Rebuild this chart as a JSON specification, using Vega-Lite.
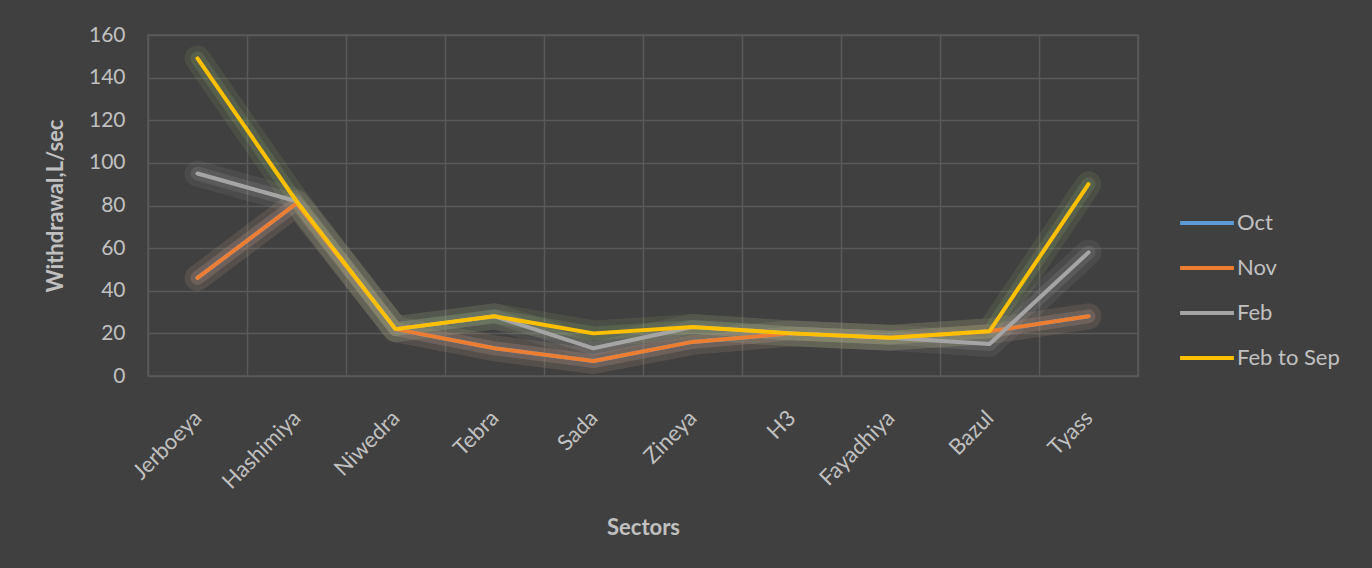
{
  "$schema": "https://vega.github.io/schema/vega-lite/v6.json",
  "width": 990,
  "height": 341,
  "autosize": {"type": "none"},
  "padding": {"left": 148, "top": 35, "right": 234, "bottom": 192},
  "background": "#404040",
  "config": {
    "font": "Lato",
    "view": {"stroke": "#595959", "strokeWidth": 1.5},
    "axis": {"gridColor": "#595959", "gridWidth": 1.5, "domain": false, "ticks": false, "labelColor": "#C0C0C0", "titleColor": "#C0C0C0"}
  },
  "data": {
    "values": [
      {"sector": "Jerboeya", "series": "Oct", "value": 46},
      {"sector": "Hashimiya", "series": "Oct", "value": 81},
      {"sector": "Niwedra", "series": "Oct", "value": 22},
      {"sector": "Tebra", "series": "Oct", "value": 13},
      {"sector": "Sada", "series": "Oct", "value": 7},
      {"sector": "Zineya", "series": "Oct", "value": 16},
      {"sector": "H3", "series": "Oct", "value": 20},
      {"sector": "Fayadhiya", "series": "Oct", "value": 18},
      {"sector": "Bazul", "series": "Oct", "value": 21},
      {"sector": "Tyass", "series": "Oct", "value": 28},
      {"sector": "Jerboeya", "series": "Nov", "value": 46},
      {"sector": "Hashimiya", "series": "Nov", "value": 81},
      {"sector": "Niwedra", "series": "Nov", "value": 22},
      {"sector": "Tebra", "series": "Nov", "value": 13},
      {"sector": "Sada", "series": "Nov", "value": 7},
      {"sector": "Zineya", "series": "Nov", "value": 16},
      {"sector": "H3", "series": "Nov", "value": 20},
      {"sector": "Fayadhiya", "series": "Nov", "value": 18},
      {"sector": "Bazul", "series": "Nov", "value": 21},
      {"sector": "Tyass", "series": "Nov", "value": 28},
      {"sector": "Jerboeya", "series": "Feb", "value": 95},
      {"sector": "Hashimiya", "series": "Feb", "value": 82},
      {"sector": "Niwedra", "series": "Feb", "value": 22},
      {"sector": "Tebra", "series": "Feb", "value": 28},
      {"sector": "Sada", "series": "Feb", "value": 13},
      {"sector": "Zineya", "series": "Feb", "value": 23},
      {"sector": "H3", "series": "Feb", "value": 20},
      {"sector": "Fayadhiya", "series": "Feb", "value": 18},
      {"sector": "Bazul", "series": "Feb", "value": 15},
      {"sector": "Tyass", "series": "Feb", "value": 58},
      {"sector": "Jerboeya", "series": "Feb to Sep", "value": 149},
      {"sector": "Hashimiya", "series": "Feb to Sep", "value": 82},
      {"sector": "Niwedra", "series": "Feb to Sep", "value": 22},
      {"sector": "Tebra", "series": "Feb to Sep", "value": 28},
      {"sector": "Sada", "series": "Feb to Sep", "value": 20},
      {"sector": "Zineya", "series": "Feb to Sep", "value": 23},
      {"sector": "H3", "series": "Feb to Sep", "value": 20},
      {"sector": "Fayadhiya", "series": "Feb to Sep", "value": 18},
      {"sector": "Bazul", "series": "Feb to Sep", "value": 21},
      {"sector": "Tyass", "series": "Feb to Sep", "value": 90}
    ]
  },
  "encoding": {
    "x": {
      "field": "sector",
      "type": "nominal",
      "sort": null,
      "bandPosition": 0.5,
      "scale": {"type": "band", "paddingInner": 0, "paddingOuter": 0},
      "axis": {
        "title": "Sectors",
        "titleFontSize": 22,
        "titleFontWeight": "bold",
        "titleY": 151,
        "titleBaseline": "middle",
        "labelAngle": -45,
        "labelFontSize": 22,
        "labelPadding": 31,
        "labelOffset": -7,
        "tickBand": "extent",
        "grid": true
      }
    },
    "y": {
      "field": "value",
      "type": "quantitative",
      "scale": {"domain": [0, 160]},
      "axis": {
        "title": "Withdrawal,L/sec",
        "titleFontSize": 22,
        "titleFontWeight": "bold",
        "titleX": -93,
        "titleBaseline": "middle",
        "values": [0, 20, 40, 60, 80, 100, 120, 140, 160],
        "labelFontSize": 21,
        "labelPadding": 23,
        "grid": true
      }
    }
  },
  "resolve": {"scale": {"color": "independent"}, "legend": {"color": "independent"}},
  "layer": [
    {
      "mark": {"type": "line", "strokeWidth": 26, "opacity": 0.11, "strokeCap": "round", "strokeJoin": "round"},
      "encoding": {
        "color": {
          "field": "series",
          "type": "nominal",
          "scale": {"domain": ["Oct", "Nov", "Feb", "Feb to Sep"], "range": ["#5B9BD5", "#ED7D31", "#A5A5A5", "#9CC070"]},
          "legend": null
        }
      }
    },
    {
      "mark": {"type": "line", "strokeWidth": 14, "opacity": 0.17, "strokeCap": "round", "strokeJoin": "round"},
      "encoding": {
        "color": {
          "field": "series",
          "type": "nominal",
          "scale": {"domain": ["Oct", "Nov", "Feb", "Feb to Sep"], "range": ["#5B9BD5", "#ED7D31", "#A5A5A5", "#9CC070"]},
          "legend": null
        }
      }
    },
    {
      "mark": {"type": "line", "strokeWidth": 4, "strokeCap": "round", "strokeJoin": "round"},
      "encoding": {
        "color": {
          "field": "series",
          "type": "nominal",
          "scale": {"domain": ["Oct", "Nov", "Feb", "Feb to Sep"], "range": ["#5B9BD5", "#ED7D31", "#A5A5A5", "#FFC000"]},
          "legend": {
            "title": null,
            "orient": "none",
            "legendX": 1030,
            "legendY": 159,
            "padding": 0,
            "symbolType": "stroke",
            "symbolSize": 2900,
            "symbolStrokeWidth": 4,
            "rowPadding": 5,
            "labelFontSize": 22,
            "labelColor": "#C0C0C0",
            "labelOffset": 1
          }
        }
      }
    }
  ]
}
